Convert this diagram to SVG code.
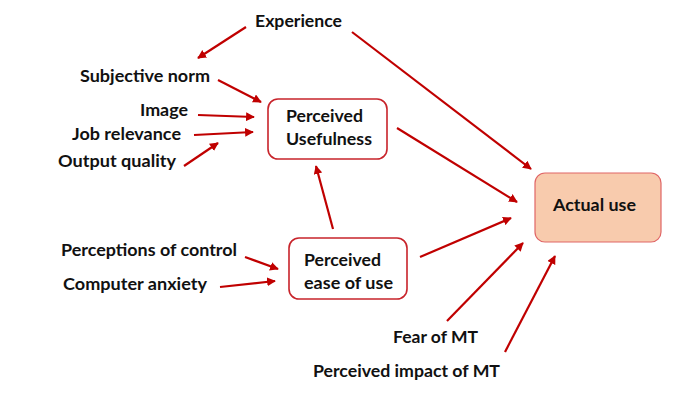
<svg xmlns="http://www.w3.org/2000/svg" width="700" height="401" viewBox="0 0 700 401">
<defs>
<marker id="ah" viewBox="0 0 10 10" refX="9" refY="5" markerWidth="4" markerHeight="4" orient="auto" markerUnits="strokeWidth">
<path d="M0,0 L10,5 L0,10 z" fill="#c00000"/>
</marker>
<style>
text{font-family:Lato,"Liberation Sans",sans-serif;font-weight:bold;font-size:17px;fill:#111}
.c line{stroke:#c00000;stroke-width:2.2;marker-end:url(#ah)}
.box{fill:#fff;stroke:#c8242b;stroke-width:1.6}
</style>
</defs>
<rect width="700" height="401" fill="#fff"/>
<g class="c" id="connectors">
<line x1="246" y1="27" x2="198" y2="58"/>
<line x1="352" y1="32" x2="531" y2="169"/>
<line x1="218" y1="80" x2="261" y2="102"/>
<line x1="198" y1="115" x2="254" y2="117"/>
<line x1="194" y1="135" x2="253" y2="132"/>
<line x1="184" y1="166" x2="218" y2="143"/>
<line x1="397" y1="128" x2="517" y2="202"/>
<line x1="333" y1="229" x2="316" y2="166"/>
<line x1="245" y1="257" x2="278" y2="269"/>
<line x1="220" y1="287" x2="275" y2="281"/>
<line x1="420" y1="257" x2="511" y2="218"/>
<line x1="447" y1="321" x2="523" y2="243"/>
<line x1="505" y1="352" x2="555" y2="256"/>
</g>
<g id="experience"><text x="255" y="27" textLength="87" lengthAdjust="spacingAndGlyphs">Experience</text></g>
<g id="subjective-norm"><text x="80" y="82" textLength="130" lengthAdjust="spacingAndGlyphs">Subjective norm</text></g>
<g id="image"><text x="140" y="116" textLength="48" lengthAdjust="spacingAndGlyphs">Image</text></g>
<g id="job-relevance"><text x="72" y="140" textLength="109" lengthAdjust="spacingAndGlyphs">Job relevance</text></g>
<g id="output-quality"><text x="58" y="167" textLength="118" lengthAdjust="spacingAndGlyphs">Output quality</text></g>
<g id="perceived-usefulness">
<rect class="box" x="268" y="99" width="119" height="60" rx="10"/>
<text x="286" y="122" textLength="77" lengthAdjust="spacingAndGlyphs">Perceived</text>
<text x="286" y="145" textLength="86" lengthAdjust="spacingAndGlyphs">Usefulness</text>
</g>
<g id="perceptions-of-control"><text x="61" y="256" textLength="176" lengthAdjust="spacingAndGlyphs">Perceptions of control</text></g>
<g id="computer-anxiety"><text x="63" y="290" textLength="144" lengthAdjust="spacingAndGlyphs">Computer anxiety</text></g>
<g id="perceived-ease-of-use">
<rect class="box" x="289" y="238" width="118" height="61" rx="10"/>
<text x="304" y="266" textLength="77" lengthAdjust="spacingAndGlyphs">Perceived</text>
<text x="304" y="289" textLength="89" lengthAdjust="spacingAndGlyphs">ease of use</text>
</g>
<g id="actual-use">
<rect x="535" y="173" width="126" height="69" rx="10" fill="#f8cbad" stroke="#e06666" stroke-width="1.2"/>
<text x="553" y="211" textLength="83" lengthAdjust="spacingAndGlyphs">Actual use</text>
</g>
<g id="fear-of-mt"><text x="393" y="343" textLength="85" lengthAdjust="spacingAndGlyphs">Fear of MT</text></g>
<g id="perceived-impact-of-mt"><text x="313" y="377" textLength="187" lengthAdjust="spacingAndGlyphs">Perceived impact of MT</text></g>
</svg>
